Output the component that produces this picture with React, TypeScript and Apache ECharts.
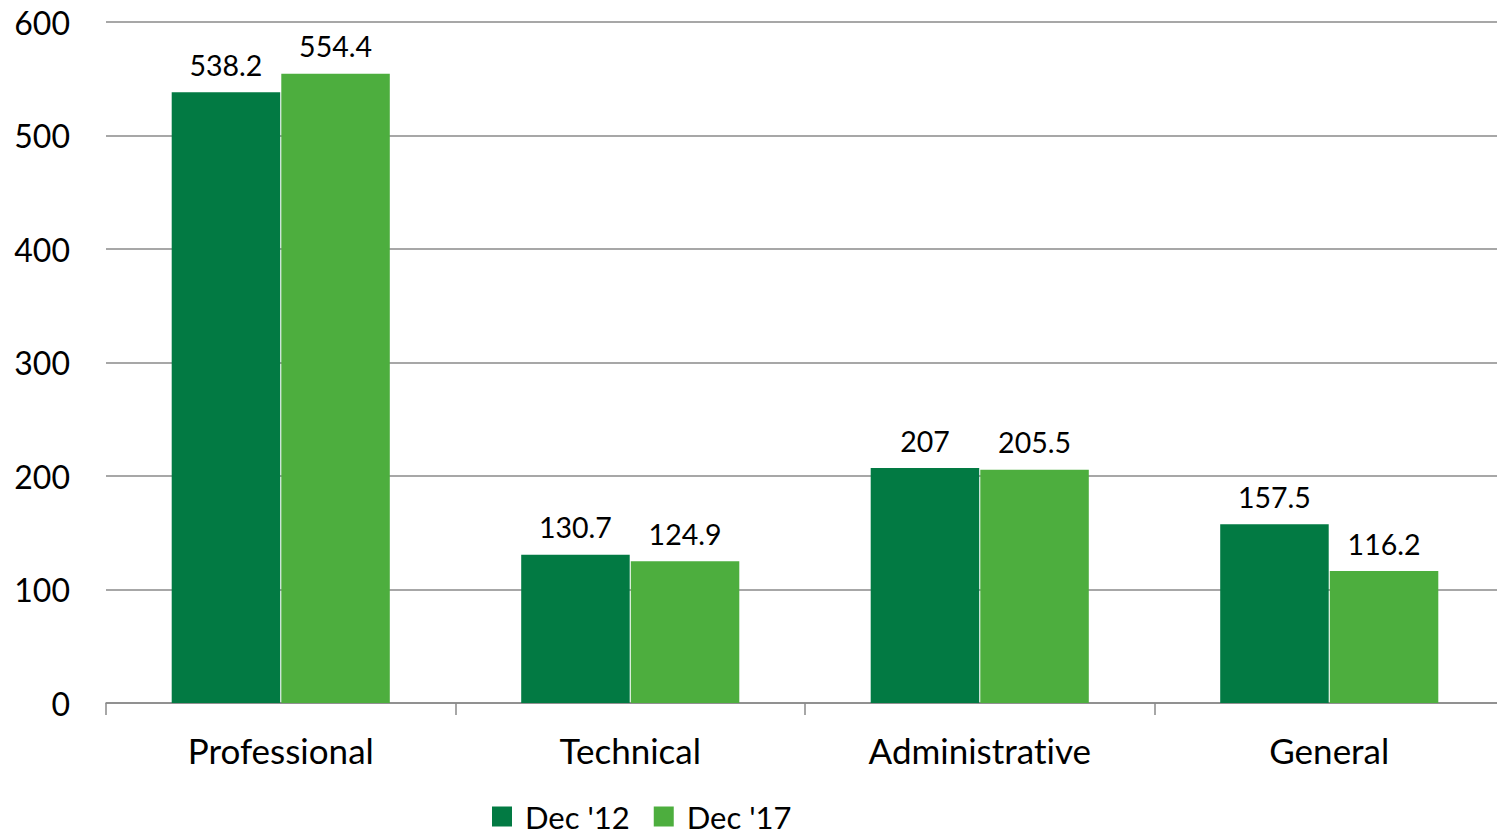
import React, { useEffect, useRef } from "react";
import * as echarts from "echarts";

const categories = ["Professional", "Technical", "Administrative", "General"];
const dec12 = [538.2, 130.7, 207, 157.5];
const dec17 = [554.4, 124.9, 205.5, 116.2];
const seriesNames = ["Dec '12", "Dec '17"];

const FONT = "Lato";

export default function App() {
  const ref = useRef<HTMLDivElement>(null);
  useEffect(() => {
    if (!ref.current) return;
    const chart = echarts.init(ref.current, null, { renderer: "svg" });
    const labelStyle = {
      show: true,
      position: "top" as const,
      distance: 13,
      fontFamily: FONT,
      fontSize: 28.5,
      color: "#000",
    };
    chart.setOption({
      animation: false,
      backgroundColor: "#fff",
      grid: { left: 106, top: 22, right: 16, bottom: 850 - 703, containLabel: false },
      legend: {
        left: 492,
        top: 801,
        padding: 0,
        itemWidth: 20,
        itemHeight: 20,
        itemGap: 24,
        icon: "rect",
        textStyle: {
          fontFamily: FONT,
          fontSize: 31,
          lineHeight: 31,
          color: "#000",
          padding: [0, 0, 0, 8],
        },
        data: seriesNames,
      },
      xAxis: {
        type: "category",
        data: categories,
        axisLine: { lineStyle: { color: "#8a8a8a", width: 1.5 } },
        axisTick: { show: true, length: 12, lineStyle: { color: "#8a8a8a", width: 1.5 } },
        axisLabel: { fontFamily: FONT, fontSize: 35, color: "#000", margin: 29 },
      },
      yAxis: {
        type: "value",
        min: 0,
        max: 600,
        interval: 100,
        axisLine: { show: false },
        axisTick: { show: false },
        splitLine: { lineStyle: { color: "#8a8a8a", width: 1.5 } },
        axisLabel: { fontFamily: FONT, fontSize: 32, color: "#000", margin: 36 },
      },
      series: [
        {
          name: seriesNames[0],
          type: "bar",
          data: dec12,
          itemStyle: { color: "#027A43" },
          barGap: "1%",
          barCategoryGap: "37.6%",
          label: labelStyle,
        },
        {
          name: seriesNames[1],
          type: "bar",
          data: dec17,
          itemStyle: { color: "#4DAE3E" },
          barGap: "1%",
          barCategoryGap: "37.6%",
          label: labelStyle,
        },
      ],
    });
    return () => chart.dispose();
  }, []);
  return (
    <div
      style={{
        position: "fixed",
        left: 0,
        top: 0,
        width: 1497,
        height: 836,
        overflow: "hidden",
        background: "#fff",
      }}
    >
      <style>{`svg text { font-variant-ligatures: none; font-feature-settings: "liga" 0; }`}</style>
      <div ref={ref} style={{ width: 1520, height: 850 }} />
    </div>
  );
}
